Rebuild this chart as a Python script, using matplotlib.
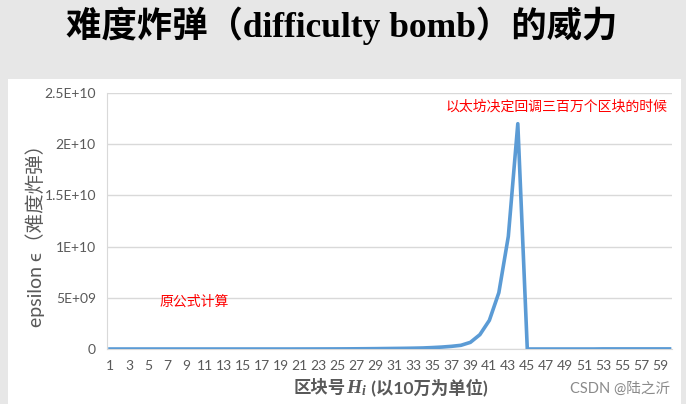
import matplotlib
matplotlib.use("Agg")
import matplotlib.pyplot as plt
from matplotlib.patches import Rectangle
from matplotlib.offsetbox import TextArea, HPacker, AnchoredOffsetbox

# block number H_i, in units of 100k
blocks = list(range(1, 61))
# difficulty bomb epsilon
epsilon = [
    0, 0, 0, 0, 0, 0, 0, 0, 0, 0,
    0, 0, 0, 0, 0, 0, 0, 0, 0, 0,
    2e6, 3e6, 5e6, 7e6, 1e7, 1.4e7, 2e7, 2.7e7, 3.5e7, 4.5e7,
    5.5e7, 6.5e7, 8e7, 1e8, 1.4e8, 1.9e8, 2.6e8, 3.6e8, 6.5e8, 1.4e9,
    2.8e9, 5.5e9, 1.1e10, 2.2e10, 0, 0, 0, 0, 0, 0,
    0, 0, 1e7, 1e7, 1e7, 1e7, 1e7, 1e7, 1e7, 1e7,
]
yticks = [0, 5e9, 1e10, 1.5e10, 2e10, 2.5e10]
ytick_labels = ["0", "5E+09", "1E+10", "1.5E+10", "2E+10", "2.5E+10"]
xticks = blocks[::2]

W, H = 686, 404
grey = "#595959"
sans = ["Lato", "Noto Sans CJK SC", "DejaVu Sans"]

# bold italic serif for the H_i symbol
plt.rcParams["mathtext.fontset"] = "custom"
plt.rcParams["mathtext.it"] = "Liberation Serif:italic:bold"
plt.rcParams["mathtext.rm"] = "Liberation Serif:bold"

fig = plt.figure(figsize=(W / 100, H / 100), dpi=100)
fig.patch.set_facecolor("#e7e7e7")
fig.patches.append(Rectangle((8 / W, 0), 673 / W, (H - 79) / H,
                             transform=fig.transFigure, facecolor="white",
                             edgecolor="none", zorder=-10))

fig.text(342 / W, 1 - 26 / H, "难度炸弹（difficulty bomb）的威力",
         ha="center", va="center", fontsize=25.5, fontweight="bold",
         family=["Liberation Serif", "Noto Sans CJK SC"], color="black")

ax = fig.add_axes([107 / W, (H - 349) / H, 565 / W, 256 / H])
ax.set_zorder(1)
ax.set_facecolor("white")
ax.plot(blocks, epsilon, color="#5b9bd5", lw=2.6, solid_joinstyle="round",
        zorder=3)
ax.set_xlim(0.68, 60.26)
ax.set_ylim(0, 2.5e10)
ax.set_yticks(yticks)
ax.set_yticklabels(ytick_labels)
ax.set_xticks(xticks)
ax.set_xticklabels([str(x) for x in xticks])
ax.grid(axis="y", color="#d9d9d9", lw=1)
ax.set_axisbelow(True)
for s in ["top", "right"]:
    ax.spines[s].set_visible(False)
for s in ["left", "bottom"]:
    ax.spines[s].set_color("#d9d9d9")
ax.tick_params(length=0, colors=grey, labelsize=10, pad=8)
for lab in ax.get_xticklabels() + ax.get_yticklabels():
    lab.set_family(["Lato", "DejaVu Sans"])

fig.text(35 / W, 1 - 231 / H, "epsilon ϵ（难度炸弹）", rotation=90,
         ha="center", va="center", fontsize=14, color=grey, family=sans)

# x label: 区块号 H_i (以10万为单位), pieced together so the CJK text and
# the math part each get their own font
bold = dict(color=grey, fontsize=12.5, fontweight="bold", family=sans)
xlabel = HPacker(children=[
    TextArea("区块号", textprops=bold),
    TextArea("$H_i$", textprops=dict(color=grey, fontsize=14)),
    TextArea(" (以10万为单位)", textprops=bold),
], align="baseline", pad=0, sep=0)
fig.add_artist(AnchoredOffsetbox(loc="center", child=xlabel, frameon=False,
                                 bbox_to_anchor=(391 / W, 1 - 388 / H),
                                 bbox_transform=fig.transFigure,
                                 borderpad=0, pad=0))

fig.text(446 / W, 1 - 107 / H, "以太坊决定回调三百万个区块的时候",
         ha="left", va="center", fontsize=10, color="red",
         family=["Noto Sans CJK SC"], zorder=5)
fig.text(160 / W, 1 - 302 / H, "原公式计算", ha="left", va="center",
         fontsize=10, color="red", family=["Noto Sans CJK SC"], zorder=5)
fig.text(670 / W, 1 - 389 / H, "CSDN @陆之沂", ha="right", va="center",
         fontsize=10.5, color="#8a8a8a", family=["Lato", "Noto Sans CJK SC"])

fig.savefig("out.png", dpi=100, facecolor=fig.get_facecolor())
